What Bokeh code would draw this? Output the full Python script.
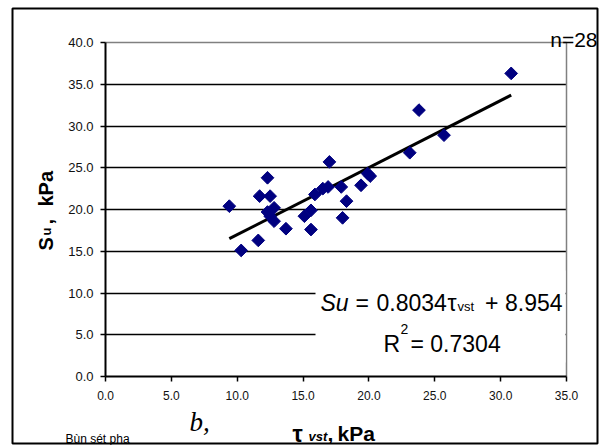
import numpy as np
from bokeh.plotting import figure
from bokeh.models import (Range1d, FixedTicker, NumeralTickFormatter, Label, BoxAnnotation,
                          LinearAxis, Grid)
from bokeh.embed import file_html
from bokeh.resources import INLINE

# ---- data ----
tau_vst = [9.4, 10.3, 11.6, 11.7, 12.3, 12.5, 12.3, 12.5, 12.8, 12.8, 13.7, 15.1, 15.6, 15.6,
           15.9, 16.5, 16.9, 17.0, 17.9, 18.3, 18.0, 19.4, 19.9, 20.1, 23.1, 23.8, 25.7, 30.8]
su = [20.4, 15.1, 16.3, 21.6, 23.8, 21.6, 19.7, 19.2, 20.2, 18.6, 17.7, 19.2, 19.9, 17.6,
      21.8, 22.5, 22.7, 25.7, 22.7, 21.0, 19.0, 22.9, 24.3, 24.0, 26.8, 31.9, 28.9, 36.3]
slope = 0.8034
intercept = 8.954
x_ticks = [0, 5, 10, 15, 20, 25, 30, 35]
y_ticks = [0, 5, 10, 15, 20, 25, 30, 35, 40]

W, H = 602, 445
L, R, T, B = 105, 566, 42, 376      # plot-area edges in pixels
XMAX, YMAX = 35.0, 40.0


def sx(px):
    return (px - L) / (R - L) * XMAX


def sy(py):
    return (B - py) / (B - T) * YMAX


# the frame spans the whole canvas; axes are pinned at 0 with fixed_location
p = figure(width=W, height=H, output_backend="svg", toolbar_location=None,
           x_range=Range1d(sx(0), sx(W)), y_range=Range1d(sy(H), sy(0)),
           x_axis_type=None, y_axis_type=None, min_border=0)
p.background_fill_color = "white"
p.border_fill_color = "white"
p.outline_line_color = None

# horizontal gridlines (black) inside plot area
p.add_layout(Grid(dimension=1, ticker=FixedTicker(ticks=y_ticks[1:-1]), bounds=(0, YMAX),
                  cross_bounds=(0, XMAX), grid_line_color="black", grid_line_width=1.5))
# plot-area border top / right (grey)
p.add_layout(Grid(dimension=1, ticker=FixedTicker(ticks=[YMAX]), bounds=(0, YMAX),
                  cross_bounds=(0, XMAX), grid_line_color="#808080", grid_line_width=1.5))
p.add_layout(Grid(dimension=0, ticker=FixedTicker(ticks=[XMAX]), bounds=(0, XMAX),
                  cross_bounds=(0, YMAX), grid_line_color="#808080", grid_line_width=1.5))

xaxis = LinearAxis(fixed_location=0, bounds=(0, XMAX))
yaxis = LinearAxis(fixed_location=0, bounds=(0, YMAX))
for ax, ticks, fs, standoff in ((xaxis, x_ticks, "12px", 9), (yaxis, y_ticks, "13px", 7)):
    ax.ticker = FixedTicker(ticks=ticks)
    ax.formatter = NumeralTickFormatter(format="0.0")
    ax.axis_line_color = "black"
    ax.axis_line_width = 2
    ax.major_tick_line_color = "black"
    ax.major_tick_line_width = 1.5
    ax.major_tick_out = 5
    ax.major_tick_in = 0
    ax.minor_tick_out = 0
    ax.minor_tick_in = 0
    ax.major_label_text_font = "Liberation Sans"
    ax.major_label_text_font_size = fs
    ax.major_label_text_color = "#111111"
    ax.major_label_standoff = standoff
p.add_layout(xaxis, "below")
p.add_layout(yaxis, "left")

# regression line over data range
xmin, xmax = min(tau_vst), max(tau_vst)
p.line([xmin, xmax], [slope * xmin + intercept, slope * xmax + intercept],
       line_color="black", line_width=3)

p.scatter(tau_vst, su, marker="square", angle=np.pi / 4, size=9,
          fill_color="#000080", line_color="#000080")

# white box behind the equation
p.add_layout(BoxAnnotation(left=sx(315), right=sx(565), bottom=sy(362), top=sy(270),
                           fill_color="white", fill_alpha=1.0, line_alpha=0))

# outer chart border
p.add_layout(BoxAnnotation(left=sx(12), right=sx(597), top=sy(8), bottom=sy(443),
                           fill_alpha=0, line_color="black", line_alpha=1.0, line_width=2))


def lab(text, px, py, size, style="normal", align="left", angle=0.0,
        font="Liberation Sans", baseline="alphabetic"):
    p.add_layout(Label(x=sx(px), y=sy(py), text=text, text_font=font,
                       text_font_size=f"{size}px", text_font_style=style,
                       text_align=align, text_baseline=baseline, angle=angle,
                       text_color="black"))


lab("n=28", 597, 39, 21, align="right")

# y axis label: S_u,kPa (rotated)
rot = np.pi / 2
lab("S", 45, 250, 20, style="bold", angle=rot)
lab("u", 46, 235, 13, style="bold", angle=rot)
lab(",", 45, 224, 20, style="bold", angle=rot)
lab("kPa", 45, 206, 20, style="bold", angle=rot)

# x axis label: tau_vst,kPa
lab("τ", 292, 433, 23, style="bold")
lab("vst", 308, 436, 13, style="bold italic")
lab(",", 327, 433, 21, style="bold")
lab("kPa", 337, 433, 21, style="bold")

lab("b,", 189, 421, 27, style="italic", font="Liberation Serif")
lab("Bùn sét pha", 65, 438, 12)

# equation
lab("Su", 320, 302, 23, style="italic")
lab("=", 355, 302, 23)
lab("0.8034", 376, 302, 23)
lab("τ", 447, 302, 23)
lab("vst", 457, 306, 13)
lab("+ 8.954", 562, 302, 23, align="right")
lab("R", 383, 343, 23)
lab("2", 400, 328, 14)
lab("= 0.7304", 410, 343, 23)

open("out.html", "w").write(file_html(p, INLINE))
